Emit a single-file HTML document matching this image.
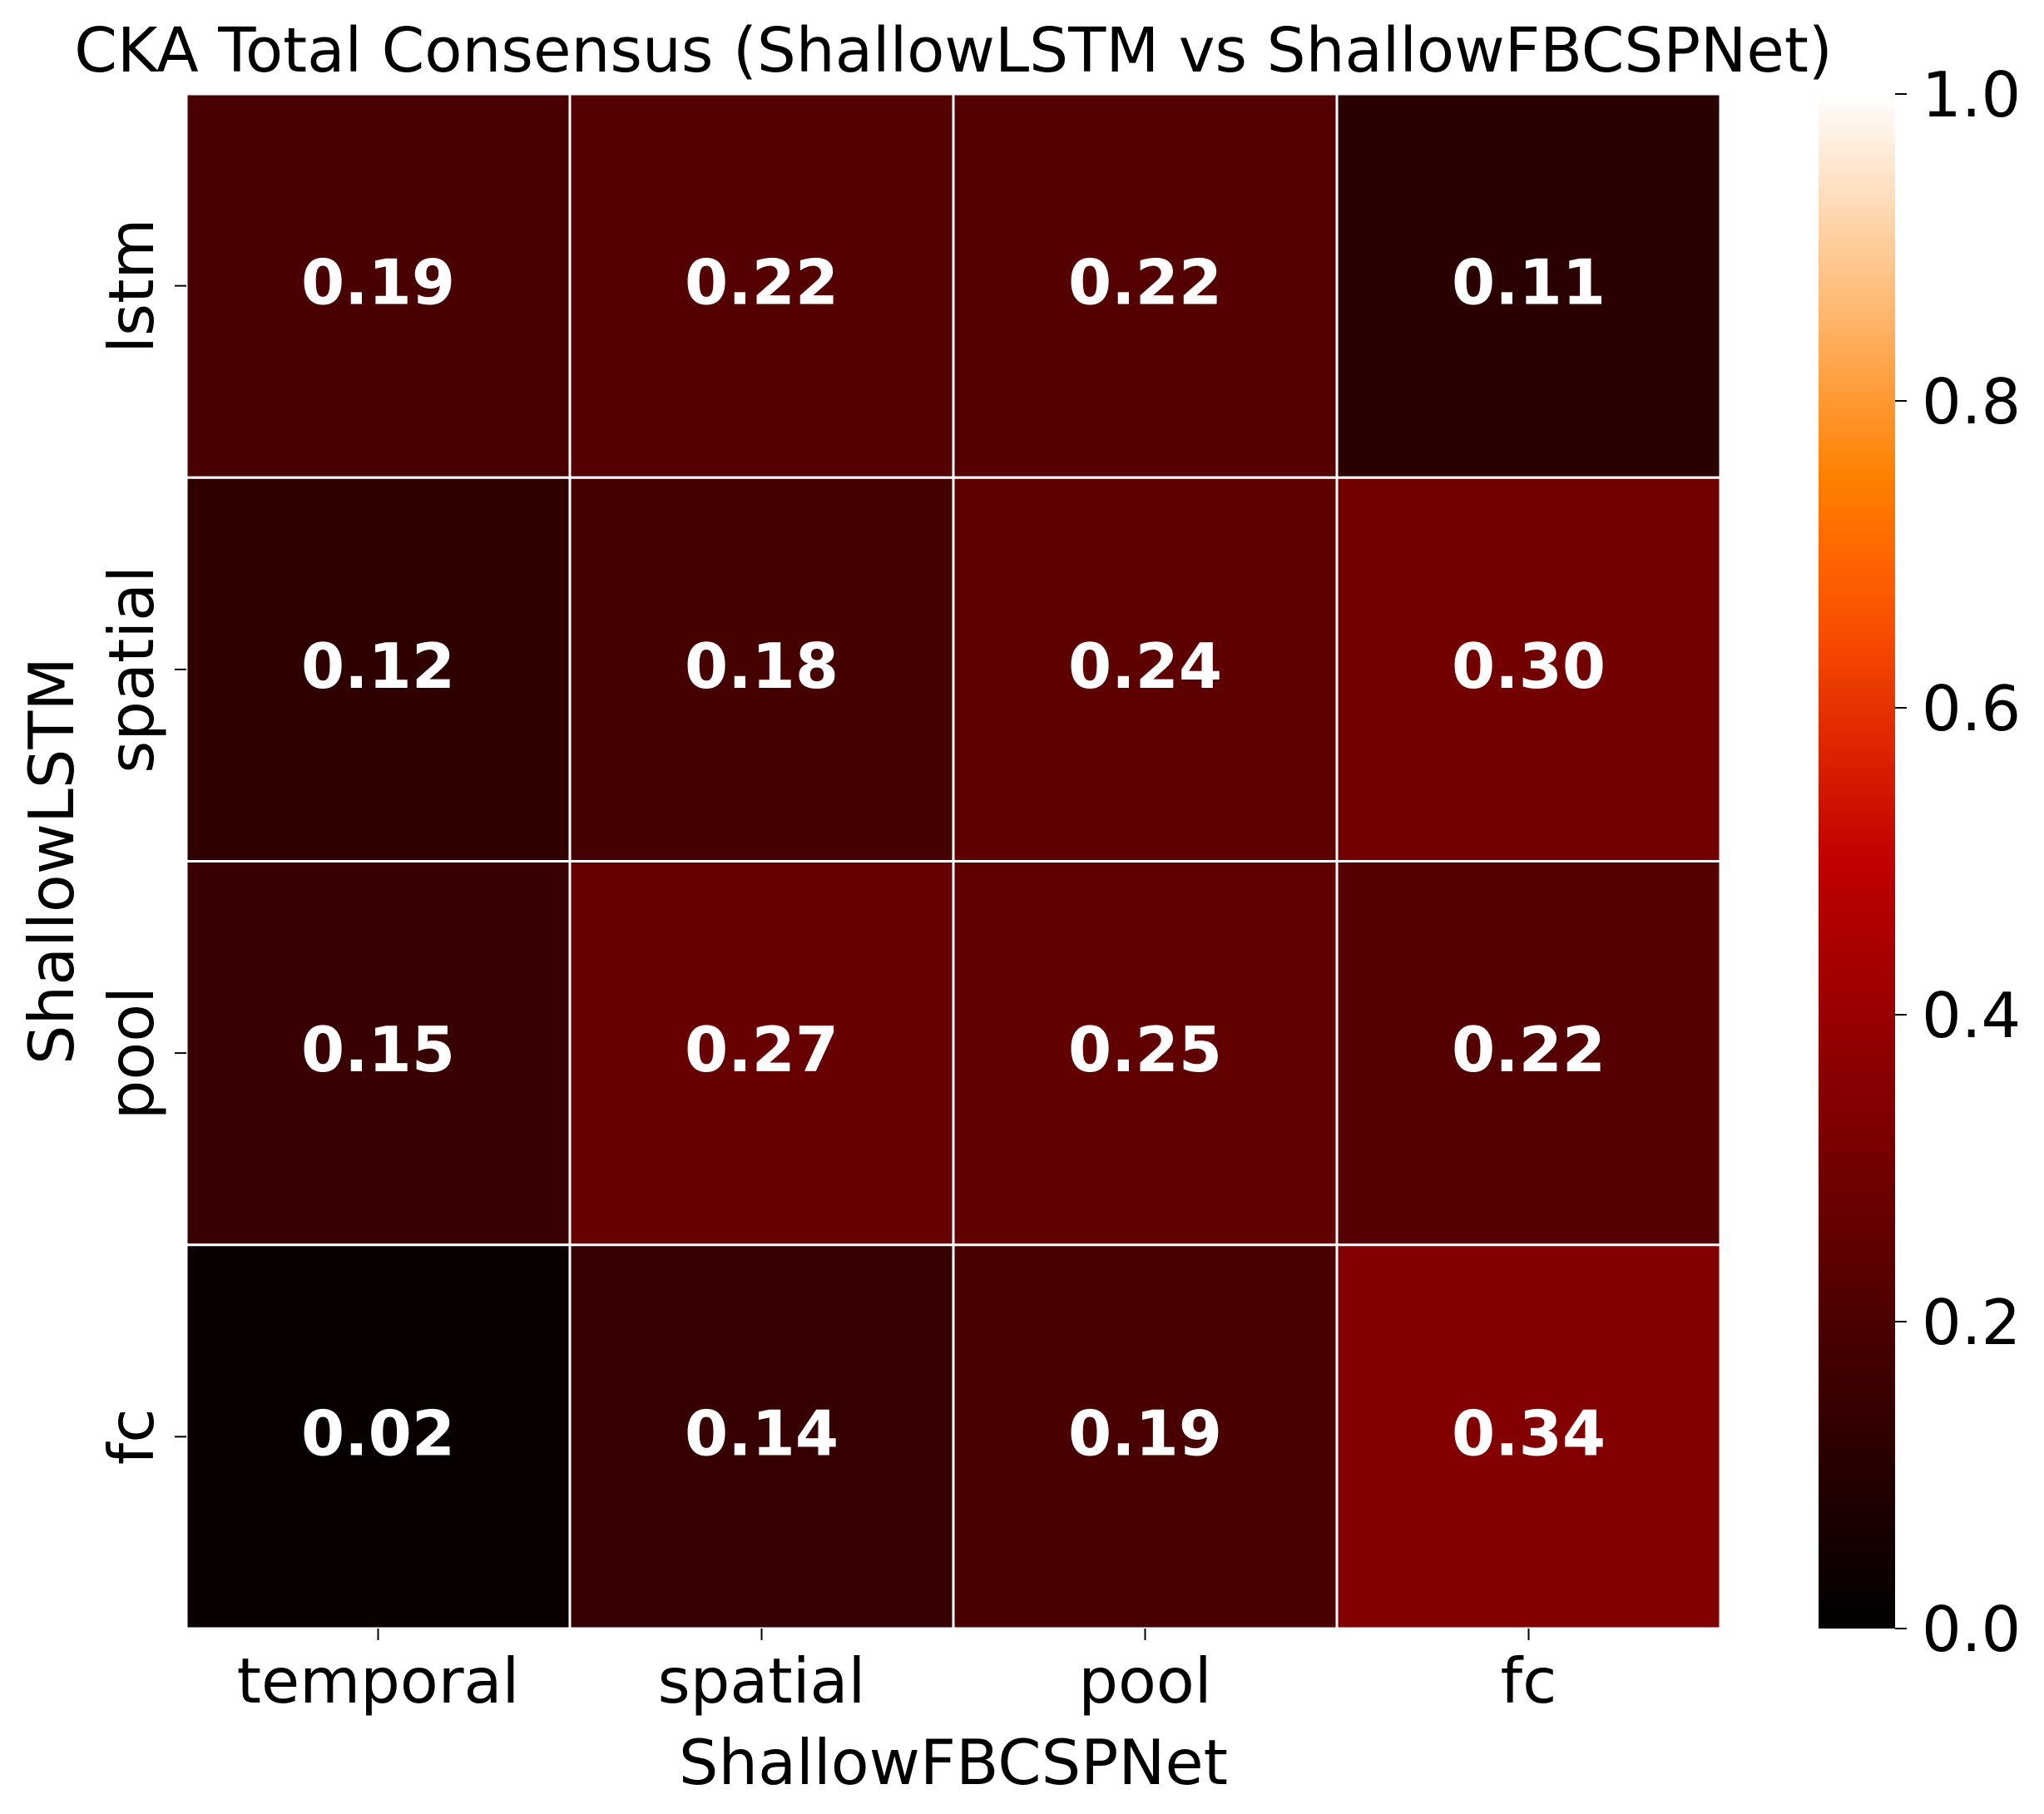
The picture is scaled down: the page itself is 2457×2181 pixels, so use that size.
<!DOCTYPE html>
<html><head><meta charset="utf-8"><style>
html,body{margin:0;padding:0;background:#fff;}
svg{display:block;font-family:"DejaVu Sans","Liberation Sans",sans-serif;}
</style></head><body>
<svg id="chart" width="2457" height="2181" viewBox="0 0 2457 2181" xmlns="http://www.w3.org/2000/svg">
<defs><linearGradient id="cg" x1="0" y1="1" x2="0" y2="0"></linearGradient></defs>
<text x="1146" y="86" font-size="74" text-anchor="middle">CKA Total Consensus (ShallowLSTM vs ShallowFBCSPNet)</text>
<g id="cells"></g>
<g id="xt"></g>
<g id="yt"></g>
<text x="1146" y="2145" font-size="75" text-anchor="middle">ShallowFBCSPNet</text>
<text transform="translate(88,1035) rotate(-90)" font-size="75" text-anchor="middle">ShallowLSTM</text>
<rect x="2186" y="113" width="92" height="1845" fill="url(#cg)"/>
<g id="cb"></g>
</svg>
<script>
const xCategories = ["temporal","spatial","pool","fc"];
const yCategories = ["lstm","spatial","pool","fc"];
const row0 = [0.19,0.22,0.22,0.11];
const row1 = [0.12,0.18,0.24,0.30];
const row2 = [0.15,0.27,0.25,0.22];
const row3 = [0.02,0.14,0.19,0.34];
const cbTicks = ["0.0","0.2","0.4","0.6","0.8","1.0"];
const rows = [row0,row1,row2,row3];
const NS="http://www.w3.org/2000/svg";
const L=224,T=113,W=1844,H=1845;
const cw=W/xCategories.length, ch=H/yCategories.length;
function xs(i){return L+i*cw;}
function ys(j){return T+j*ch;}
function cmap(v){const c=x=>Math.round(Math.max(0,Math.min(1,x))*255);return `rgb(${c(1.5*v)},${c(2*v-1)},${c(4*v-3)})`;}
function el(tag,attrs,parent){const e=document.createElementNS(NS,tag);for(const k in attrs)e.setAttribute(k,attrs[k]);parent.appendChild(e);return e;}
const cells=document.getElementById('cells');
rows.forEach((r,j)=>r.forEach((v,i)=>{
  const rc=el('rect',{x:xs(i),y:ys(j),width:cw,height:ch,fill:cmap(v),stroke:'#fff','stroke-width':3},cells);
  
  
  const t=el('text',{x:xs(i)+cw/2,y:ys(j)+ch/2+22,'font-size':75,'font-weight':'bold',fill:'#fff','text-anchor':'middle'},cells);
  t.textContent=v.toFixed(2);
  
  
}));
const xt=document.getElementById('xt');
xCategories.forEach((c,i)=>{
  const cx=xs(i)+cw/2;
  el('line',{x1:cx,x2:cx,y1:T+H,y2:T+H+14,stroke:'#000','stroke-width':2},xt);
  const t=el('text',{x:cx,y:2047,'font-size':75,'text-anchor':'middle'},xt);
  t.textContent=c;
  
  
});
const yt=document.getElementById('yt');
yCategories.forEach((c,j)=>{
  const cy=ys(j)+ch/2;
  el('line',{x1:L-14,x2:L,y1:cy,y2:cy,stroke:'#000','stroke-width':2},yt);
  const t=el('text',{transform:`translate(184,${cy}) rotate(-90)`,'font-size':75,'text-anchor':'middle'},yt);
  t.textContent=c;
  
  
});
const g=document.getElementById('cg');
for(let k=0;k<=20;k++){el('stop',{offset:(k/20),'stop-color':cmap(k/20)},g);}
const cb=document.getElementById('cb');
cbTicks.forEach(s=>{
  const v=parseFloat(s);const y=T+H-v*H;
  el('line',{x1:2278,x2:2292,y1:y,y2:y,stroke:'#000','stroke-width':2},cb);
  const t=el('text',{x:2310,y:y+27,'font-size':75},cb);
  t.textContent=s;
  
  
});
</script>
</body></html>
